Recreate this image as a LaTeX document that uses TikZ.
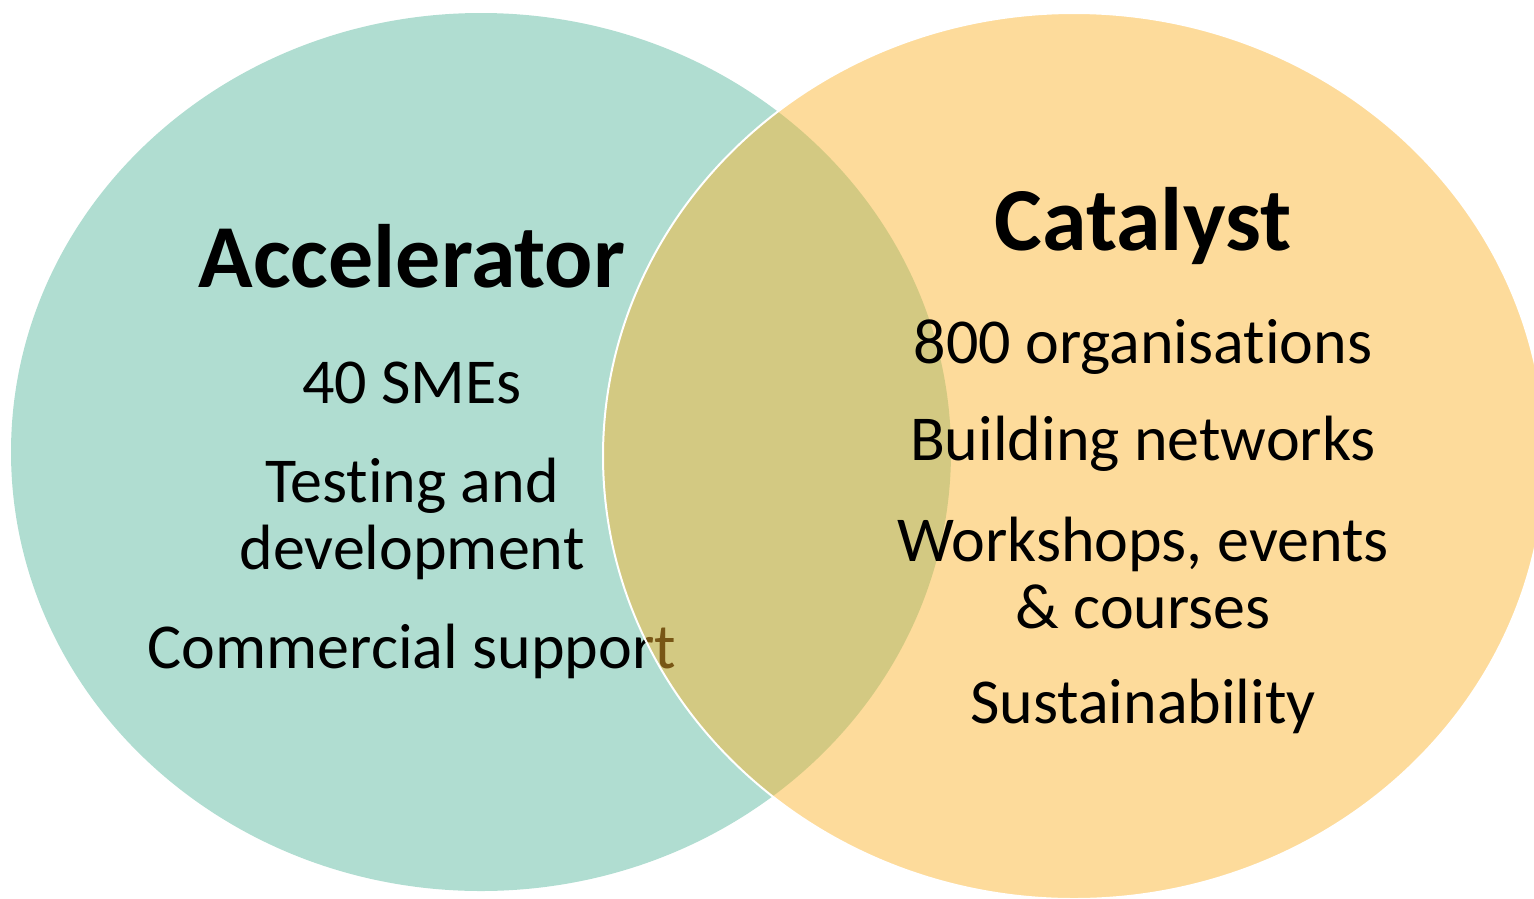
\documentclass[tikz,border=0pt]{standalone}
\usepackage{fontspec}
\setmainfont{Carlito}[Ligatures=NoCommon]
\usepackage{xcolor}
\usepackage{tikz}
\usetikzlibrary{positioning}

\definecolor{accteal}{RGB}{176,221,209}
\definecolor{catgold}{RGB}{251,180,45}

\begin{document}
\begin{tikzpicture}[x=1pt, y=-1pt,
        title/.style={font=\fontsize{90}{98}\selectfont\bfseries, anchor=base, inner sep=0pt},
        item/.style={font=\fontsize{64}{67}\selectfont, anchor=base, align=center, inner sep=0pt}]

        \useasboundingbox (0,0) rectangle (1534,898);

        % Accelerator circle and its text
        \fill[accteal] (481,452) ellipse [x radius=470pt, y radius=439pt];
        \node (acc) [title] at (412,287) {Accelerator};
        \node (smes) [item] at (412,403) {40 SMEs};
        \node (testing) [item] at (412,569) {Testing and\\development};
        \node (commercial) [item] at (412,668) {Commercial support};

        % Catalyst circle (see-through) and its text
        \draw[white, line width=2pt, fill=catgold, fill opacity=0.48]
            (1074,456) ellipse [x radius=471pt, y radius=443pt];
        \node (cat) [title] at (1143,250) {Catalyst};
        \node (orgs) [item] at (1143,363) {800 organisations};
        \node (networks) [item] at (1143,460) {Building networks};
        \node (workshops) [item] at (1143,628) {Workshops, events\\\& courses};
        \node (sustain) [item] at (1143,723) {Sustainability};

    \end{tikzpicture}
\end{document}
